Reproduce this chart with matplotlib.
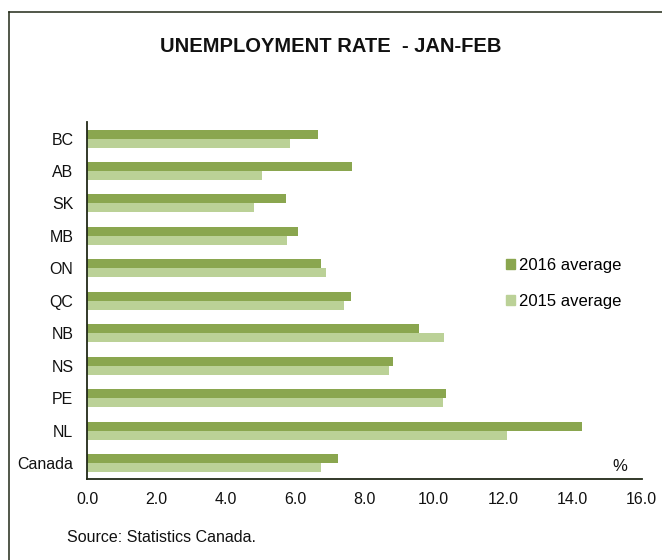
import numpy as np
import matplotlib
matplotlib.use('Agg')
import matplotlib.pyplot as plt
from matplotlib.patches import Patch
from matplotlib.lines import Line2D

plt.rcParams['font.family'] = ['Liberation Sans', 'DejaVu Sans']

# data (percent)
regions = ['BC', 'AB', 'SK', 'MB', 'ON', 'QC', 'NB', 'NS', 'PE', 'NL', 'Canada']
avg_2016 = [6.65, 7.64, 5.74, 6.07, 6.75, 7.61, 9.57, 8.83, 10.34, 14.29, 7.23]
avg_2015 = [5.84, 5.04, 4.82, 5.75, 6.89, 7.41, 10.30, 8.70, 10.26, 12.10, 6.74]
xticks = [0, 2, 4, 6, 8, 10, 12, 14, 16]

dark = '#8aa64f'
light = '#bbd197'
axis_col = '#222a18'

fig = plt.figure(figsize=(6.62, 5.60), dpi=100)
ax = fig.add_axes([0.1319, 0.1441, 0.8374, 0.6375])

y = np.arange(len(regions))
h = 0.277
ax.barh(y - h / 2, avg_2016, height=h, color=dark, label='2016 average')
ax.barh(y + h / 2, avg_2015, height=h, color=light, label='2015 average')

ax.set_xlim(0, 16)
ax.set_ylim(len(regions) - 0.5, -0.5)
ax.set_xticks(xticks)
ax.set_xticklabels(['%.1f' % t for t in xticks])
ax.set_yticks(y)
ax.set_yticklabels(regions)
ax.tick_params(axis='both', length=0, labelsize=11.5, colors='#111111')
ax.tick_params(axis='y', pad=10)
ax.tick_params(axis='x', pad=9)

for side in ['top', 'right']:
    ax.spines[side].set_visible(False)
for side in ['left', 'bottom']:
    ax.spines[side].set_color(axis_col)
    ax.spines[side].set_linewidth(1.3)

ax.text(0.961, 0.035, '%', transform=ax.transAxes, fontsize=12,
        ha='center', va='center', color='#111111')

handles = [Patch(color=dark), Patch(color=light)]
fig.legend(handles, ['2016 average', '2015 average'], loc='upper left',
           bbox_to_anchor=(0.765, 0.539), frameon=False, fontsize=12,
           handlelength=0.5, handleheight=0.5, handletextpad=0.25,
           labelspacing=1.25, borderpad=0, borderaxespad=0)

fig.text(0.5, 1 - 47 / 560, 'UNEMPLOYMENT RATE  - JAN-FEB', ha='center',
         va='center', fontsize=14.5, fontweight='bold', color='#111111')
fig.text(67 / 662, 1 - 537 / 560, 'Source: Statistics Canada.', ha='left',
         va='center', fontsize=11.5, color='#111111')

# outer frame: only its left and top edges fall inside the picture
fx, fy = 9 / 662, 1 - 12 / 560
fig.add_artist(Line2D([fx, fx], [0, fy], transform=fig.transFigure,
                      color=axis_col, linewidth=1.1))
fig.add_artist(Line2D([fx, 1], [fy, fy], transform=fig.transFigure,
                      color=axis_col, linewidth=1.1))

fig.savefig('out.png', dpi=100)
